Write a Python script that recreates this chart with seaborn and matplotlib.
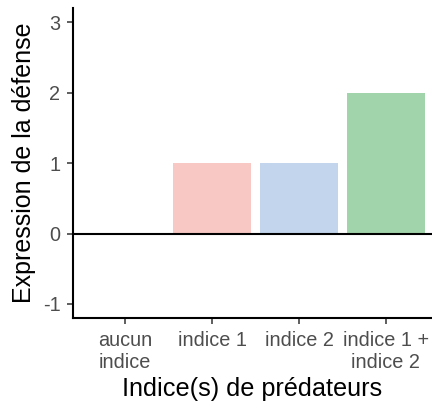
import matplotlib
matplotlib.use("Agg")
import matplotlib.pyplot as plt
import seaborn as sns
import pandas as pd

categories = ["aucun\nindice", "indice 1", "indice 2", "indice 1 +\nindice 2"]
values = [0, 1, 1, 2]
colors = ["#F8C8C4", "#F8C8C4", "#C2D5EC", "#A2D4AB"]
y_ticks = [-1, 0, 1, 2, 3]

sns.set_theme(style="white")
plt.rcParams["font.family"] = ["Liberation Sans", "DejaVu Sans"]

df = pd.DataFrame({"cat": categories, "val": values})

fig = plt.figure(figsize=(4.32, 4.03), dpi=100)
ax = fig.add_axes([73 / 432, 85 / 403, 1 - 73 / 432, (318 - 8.4) / 403])

sns.barplot(data=df, x="cat", y="val", hue="cat", palette=colors, saturation=1,
            width=0.9, linewidth=0, legend=False, ax=ax, order=categories)

ax.axhline(0, color="black", linewidth=1.5, zorder=3)
ax.set_ylim(-1.2, 3.2)
ax.set_xlim(-0.6, 3.53)
ax.set_yticks(y_ticks)
ax.set_yticklabels([str(v) for v in y_ticks])

for side in ["top", "right"]:
    ax.spines[side].set_visible(False)
for side in ["left", "bottom"]:
    ax.spines[side].set_color("black")
    ax.spines[side].set_linewidth(1.5)

ax.tick_params(axis="both", which="major", length=4, width=1.1, color="#333333",
               labelcolor="#4D4D4D", labelsize=14.3, left=True, bottom=True)
ax.tick_params(axis="x", pad=5)
ax.tick_params(axis="y", pad=5)
for lbl in ax.get_xticklabels():
    lbl.set_multialignment("center")
    lbl.set_linespacing(1.2)

ax.set_xlabel("Indice(s) de prédateurs", fontsize=18.2, color="black", labelpad=4)
ax.set_ylabel("Expression de la défense", fontsize=18, color="black", labelpad=5)

fig.savefig("out.png", dpi=100)
